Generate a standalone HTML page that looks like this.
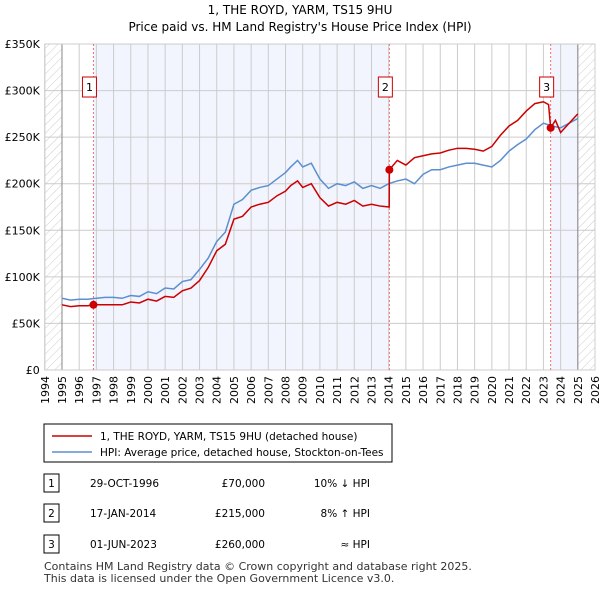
<!DOCTYPE html>
<html><head><meta charset="utf-8"><style>
body{margin:0;background:#fff;font-family:"Liberation Sans","DejaVu Sans",sans-serif;}
svg text{font-family:"DejaVu Sans","Liberation Sans",sans-serif;}
</style></head><body>
<svg id="c" width="600" height="590" xmlns="http://www.w3.org/2000/svg">
<defs><pattern id="h" width="6" height="6" patternUnits="userSpaceOnUse" patternTransform="rotate(45)"><line x1="0" y1="0" x2="0" y2="6" stroke="#ccc" stroke-width="1"/></pattern></defs>
<text x="300" y="14" text-anchor="middle" font-size="12">1, THE ROYD, YARM, TS15 9HU</text>
<text x="300" y="31" text-anchor="middle" font-size="12">Price paid vs. HM Land Registry's House Price Index (HPI)</text>
<g id="plot"></g>
<rect x="44" y="424" width="348" height="38" fill="#fff" stroke="#000"/>
<line x1="52" y1="436" x2="92" y2="436" stroke="#cc0000" stroke-width="1.5"/>
<text x="100" y="440" font-size="10.5">1, THE ROYD, YARM, TS15 9HU (detached house)</text>
<line x1="52" y1="452" x2="92" y2="452" stroke="#5b8fd0" stroke-width="1.5"/>
<text x="100" y="456" font-size="10.5">HPI: Average price, detached house, Stockton-on-Tees</text>
<g id="tbl" font-size="10.5"></g>
<text x="44" y="570" font-size="11" fill="#333">Contains HM Land Registry data © Crown copyright and database right 2025.</text>
<text x="44" y="582" font-size="11" fill="#333">This data is licensed under the Open Government Licence v3.0.</text>
</svg>
<script>
const hpiYears=[1995,1995.5,1996,1996.5,1997,1997.5,1998,1998.5,1999,1999.5,2000,2000.5,2001,2001.5,2002,2002.5,2003,2003.5,2004,2004.5,2005,2005.5,2006,2006.5,2007,2007.5,2008,2008.3,2008.7,2009,2009.5,2010,2010.5,2011,2011.5,2012,2012.5,2013,2013.5,2014,2014.5,2015,2015.5,2016,2016.5,2017,2017.5,2018,2018.5,2019,2019.5,2020,2020.5,2021,2021.5,2022,2022.5,2023,2023.5,2024,2024.5,2025];
const hpiValues=[77,75,76,76,77,78,78,77,80,79,84,82,88,87,95,97,108,120,138,148,178,183,193,196,198,205,212,218,225,218,222,205,195,200,198,202,195,198,195,200,203,205,200,210,215,215,218,220,222,222,220,218,225,235,242,248,258,265,262,260,265,270];
const redYears=[1995,1995.5,1996,1996.5,1996.83,1997.5,1998,1998.5,1999,1999.5,2000,2000.5,2001,2001.5,2002,2002.5,2003,2003.5,2004,2004.5,2005,2005.5,2006,2006.5,2007,2007.5,2008,2008.3,2008.7,2009,2009.5,2010,2010.5,2011,2011.5,2012,2012.5,2013,2013.5,2014.03,2014.04,2014.5,2015,2015.5,2016,2016.5,2017,2017.5,2018,2018.5,2019,2019.5,2020,2020.5,2021,2021.5,2022,2022.5,2023,2023.3,2023.42,2023.7,2024,2024.5,2025];
const redValues=[70,68,69,69,70,70,70,70,73,72,76,74,79,78,85,88,96,110,128,135,162,165,175,178,180,187,192,198,203,196,200,185,176,180,178,182,176,178,176,175,215,225,220,228,230,232,233,236,238,238,237,235,240,252,262,268,278,286,288,285,260,268,255,265,275];
const yTicks=[0,50,100,150,200,250,300,350];
const yLabels=["£0","£50K","£100K","£150K","£200K","£250K","£300K","£350K"];
const saleYears=[1996.83,2014.04,2023.42];
const saleValues=[70,215,260];
const saleDates=["29-OCT-1996","17-JAN-2014","01-JUN-2023"];
const salePrices=["£70,000","£215,000","£260,000"];
const saleRel=["10% ↓ HPI","8% ↑ HPI","≈ HPI"];
const X0=44.8,X1=595,Y0=370,Y1=44;
const xs=y=>X0+(y-1994)*(X1-X0)/32;
const ys=v=>Y0-v*(Y0-Y1)/350;
const NS="http://www.w3.org/2000/svg";
const g=document.getElementById('plot');
function mk(t,a,p){const e=document.createElementNS(NS,t);for(const k in a)e.setAttribute(k,a[k]);(p||g).appendChild(e);return e;}
let r=mk('rect',{x:X0,y:Y1,width:X1-X0,height:Y0-Y1,fill:'#fff'});

r=mk('rect',{x:xs(saleYears[0]),y:Y1,width:xs(saleYears[1])-xs(saleYears[0]),height:Y0-Y1,fill:'#f2f5fd'});

r=mk('rect',{x:xs(saleYears[2]),y:Y1,width:xs(2025)-xs(saleYears[2]),height:Y0-Y1,fill:'#f2f5fd'});

r=mk('rect',{x:X0,y:Y1,width:xs(1995)-X0,height:Y0-Y1,fill:'url(#h)'});

r=mk('rect',{x:xs(2025),y:Y1,width:X1-xs(2025),height:Y0-Y1,fill:'url(#h)'});

for(let yr=1994;yr<=2026;yr++){
 mk('line',{x1:xs(yr),x2:xs(yr),y1:Y1,y2:Y0,stroke:'#ccc','stroke-width':1});
 const t=mk('text',{x:0,y:0,'text-anchor':'end','font-size':11});
 t.setAttribute('transform',`translate(${xs(yr)+4},${Y0+6}) rotate(-90)`);
 t.textContent=yr;
 
 
}
yTicks.forEach((v,i)=>{
 mk('line',{x1:X0,x2:X1,y1:ys(v),y2:ys(v),stroke:'#ccc','stroke-width':1});
 const t=mk('text',{x:X0-5,y:ys(v)+4,'text-anchor':'end','font-size':11});t.textContent=yLabels[i];
 
 
});
mk('line',{x1:xs(1995),x2:xs(1995),y1:Y1,y2:Y0,stroke:'#888'});
mk('line',{x1:xs(2025),x2:xs(2025),y1:Y1,y2:Y0,stroke:'#888'});
mk('rect',{x:X0,y:Y1,width:X1-X0,height:Y0-Y1,fill:'none',stroke:'#ccc'});
saleYears.forEach((y,i)=>{
 mk('line',{x1:xs(y),x2:xs(y),y1:Y1,y2:Y0,stroke:'#f07070','stroke-dasharray':'2,2','stroke-width':1});
});
let p=mk('polyline',{points:hpiYears.map((y,i)=>xs(y)+','+ys(hpiValues[i])).join(' '),fill:'none',stroke:'#5b8fd0','stroke-width':1.5});

p=mk('polyline',{points:redYears.map((y,i)=>xs(y)+','+ys(redValues[i])).join(' '),fill:'none',stroke:'#cc0000','stroke-width':1.5});

saleYears.forEach((y,i)=>{
 const c=mk('circle',{cx:xs(y),cy:ys(saleValues[i]),r:4,fill:'#cc0000'});
 
 const cx=xs(y)-4;
 const b=mk('rect',{x:cx-7,y:77,width:14,height:20,fill:'#fff',stroke:'#cc0000'});
 
 const t=mk('text',{x:cx,y:91,'text-anchor':'middle','font-size':11});t.textContent=i+1;
});
const tb=document.getElementById('tbl');
const rowY=[484,514,545];
saleYears.forEach((y,i)=>{
 const b=mk('rect',{x:44,y:rowY[i]-10,width:15,height:18,fill:'#fff',stroke:'#000'},tb);
 
 let t=mk('text',{x:51.5,y:rowY[i]+3,'text-anchor':'middle'},tb);t.textContent=i+1;
 t=mk('text',{x:90,y:rowY[i]+3},tb);t.textContent=saleDates[i];
 
 t=mk('text',{x:265,y:rowY[i]+3,'text-anchor':'end'},tb);t.textContent=salePrices[i];
 
 t=mk('text',{x:370,y:rowY[i]+3,'text-anchor':'end'},tb);t.textContent=saleRel[i];
 
});
</script>
</body></html>
